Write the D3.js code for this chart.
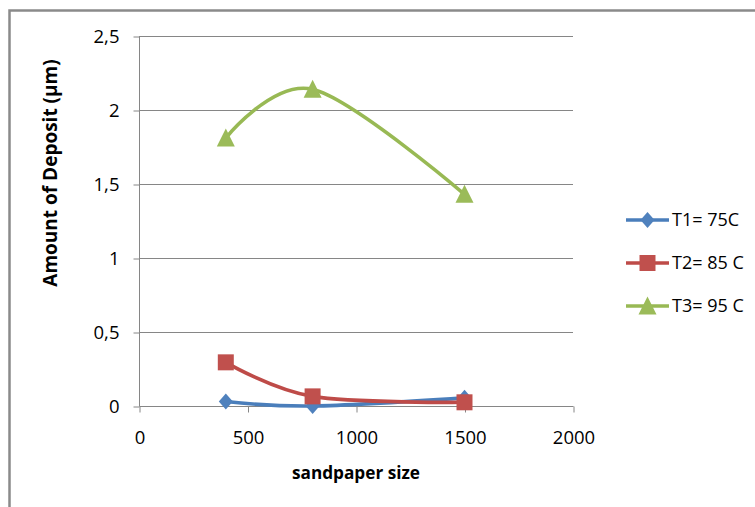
<!DOCTYPE html>
<html>
<head>
<meta charset="utf-8">
<script src="https://cdn.jsdelivr.net/npm/d3@7"></script>
<style>
  html, body { margin: 0; padding: 0; background: #fff; }
  svg { display: block; }
  text { font-family: "Open Sans", sans-serif; fill: #000; }
</style>
</head>
<body>
<svg id="chart" width="755" height="507"></svg>
<script>
// Sandpaper grit sizes tested
const sizes = [400, 800, 1500];

// Deposit thickness (µm) per temperature
const t1Values = [0.03, 0.0, 0.055];
const t2Values = [0.295, 0.065, 0.025];
const t3Values = [1.81, 2.14, 1.43];

const seriesNames = ["T1= 75C", "T2= 85 C", "T3= 95 C"];
const lineColors = ["#4A7EBB", "#BE4B48", "#98B954"];
const markerColors = ["#4F81BD", "#C0504D", "#9BBB59"];
const markerShapes = ["diamond", "square", "triangle"];

const xTicks = [0, 500, 1000, 1500, 2000];
const yTicks = [0, 0.5, 1, 1.5, 2, 2.5];

const svg = d3.select("#chart");

const x = d3.scaleLinear().domain([0, 2000]).range([139, 573]);
const y = d3.scaleLinear().domain([0, 2.5]).range([406, 36]);

const gridColor = "#868686";
const tickFont = "18.5px";
const fmt = v => d3.format("~g")(v).replace(".", ",");

// outer chart frame (only left and top edges fall inside the view)
svg.append("rect")
  .attr("x", 9.5).attr("y", 10.5)
  .attr("width", 900).attr("height", 700)
  .attr("fill", "none").attr("stroke", "#8a8a8a").attr("stroke-width", 2.5);

// horizontal gridlines
svg.append("g").selectAll("line").data(yTicks.filter(v => v > 0)).join("line")
  .attr("x1", x(0)).attr("x2", x(2000))
  .attr("y1", d => Math.round(y(d)) + 0.5).attr("y2", d => Math.round(y(d)) + 0.5)
  .attr("stroke", gridColor).attr("stroke-width", 1);

// y axis
const yAxis = d3.axisLeft(y).tickValues(yTicks).tickSize(6).tickPadding(14).tickFormat(fmt);
const gy = svg.append("g").attr("transform", `translate(${x(0) + 0.5},0.5)`).call(yAxis);
gy.select(".domain").attr("stroke", gridColor).attr("d", `M0,${y(2.5)}V${y(0)}`);
gy.selectAll(".tick line").attr("stroke", gridColor);
gy.selectAll(".tick text")
  .style("font-family", "'Open Sans', sans-serif").style("font-size", tickFont).attr("fill", "#000");

// x axis
const xAxis = d3.axisBottom(x).tickValues(xTicks).tickSize(6).tickPadding(18).tickFormat(d3.format("d"));
const gx = svg.append("g").attr("transform", `translate(0.5,${Math.round(y(0)) + 0.5})`).call(xAxis);
gx.select(".domain").attr("stroke", gridColor).attr("d", `M${x(0)},0H${x(2000)}`);
gx.selectAll(".tick line").attr("stroke", gridColor);
gx.selectAll(".tick text")
  .style("font-family", "'Open Sans', sans-serif").style("font-size", tickFont).attr("fill", "#000");

// axis titles
svg.append("text")
  .attr("x", 356).attr("y", 479)
  .attr("text-anchor", "middle")
  .style("font-weight", "bold").style("font-size", "17.2px")
  .text("sandpaper size");

svg.append("text")
  .attr("transform", "translate(57,173) rotate(-90)")
  .attr("text-anchor", "middle")
  .style("font-weight", "bold").style("font-size", "19px")
  .text("Amount of Deposit (µm)");

// marker drawing
function markerPath(shape, cx, cy) {
  const p = d3.path();
  if (shape === "diamond") {
    p.moveTo(cx, cy - 8); p.lineTo(cx + 7, cy); p.lineTo(cx, cy + 8); p.lineTo(cx - 7, cy); p.closePath();
  } else if (shape === "square") {
    p.rect(cx - 8, cy - 8, 16, 16);
  } else {
    p.moveTo(cx, cy - 9.5); p.lineTo(cx + 9, cy + 8.5); p.lineTo(cx - 9, cy + 8.5); p.closePath();
  }
  return p.toString();
}

const series = [t1Values, t2Values, t3Values].map((vals, i) => ({
  name: seriesNames[i],
  points: sizes.map((s, j) => ({ s, v: vals[j] })),
  line: lineColors[i], fill: markerColors[i], shape: markerShapes[i]
}));

const lineGen = d3.line()
  .x(d => x(d.s)).y(d => y(d.v))
  .curve(d3.curveCardinal.tension(0));

series.forEach(sr => {
  const g = svg.append("g");
  g.append("path")
    .attr("d", lineGen(sr.points))
    .attr("fill", "none").attr("stroke", sr.line)
    .attr("stroke-width", 3.6).attr("stroke-linecap", "round").attr("stroke-linejoin", "round");
  g.selectAll("path.mk").data(sr.points).join("path").attr("class", "mk")
    .attr("d", d => markerPath(sr.shape, x(d.s), y(d.v)))
    .attr("fill", sr.fill);
});

// legend
const legend = svg.append("g");
series.forEach((sr, i) => {
  const ly = 220 + i * 43;
  const row = legend.append("g");
  row.append("line")
    .attr("x1", 626).attr("x2", 669).attr("y1", ly).attr("y2", ly)
    .attr("stroke", sr.line).attr("stroke-width", 3.6);
  row.append("path").attr("d", markerPath(sr.shape, 647.5, ly)).attr("fill", sr.fill);
  row.append("text")
    .attr("x", 672).attr("y", ly).attr("dy", "0.35em")
    .style("font-size", "18px")
    .text(sr.name);
});
</script>
</body>
</html>
